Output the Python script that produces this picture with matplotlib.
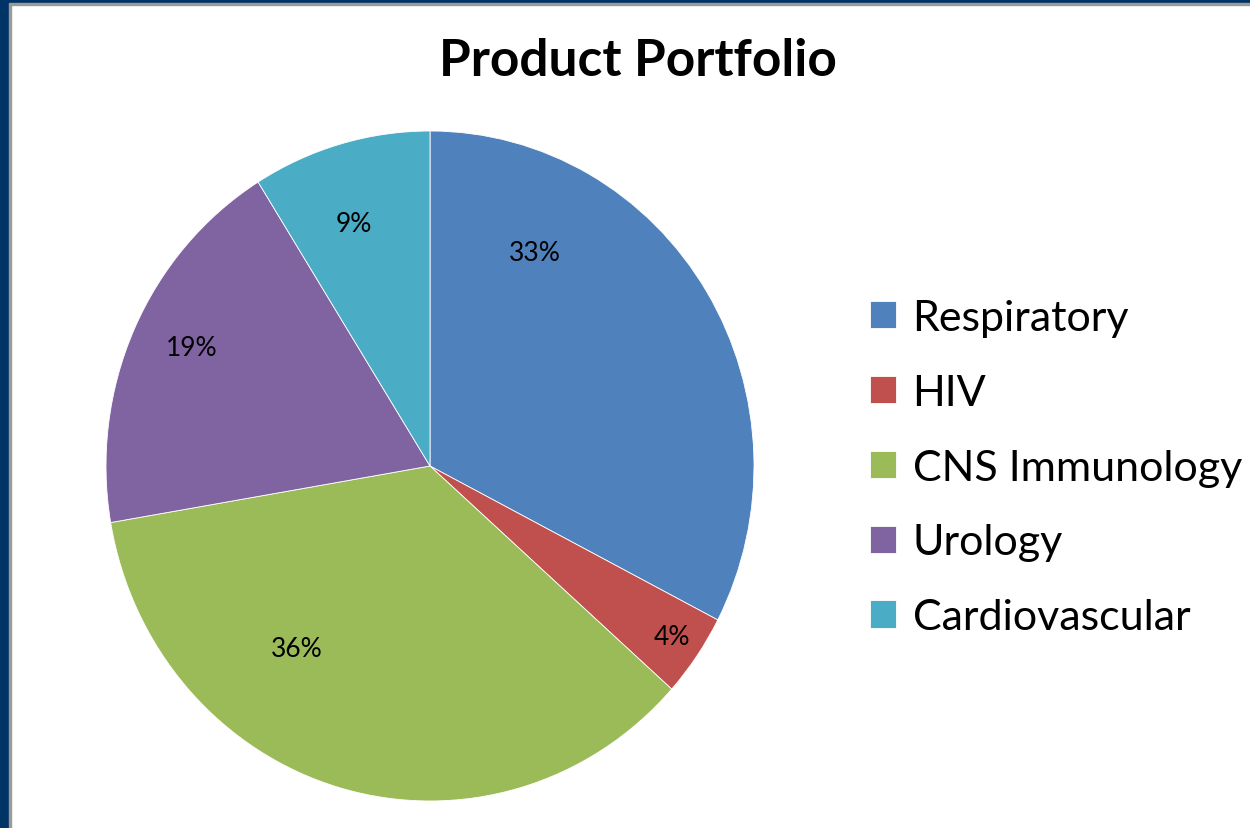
import matplotlib
matplotlib.use("Agg")
import matplotlib.pyplot as plt
from matplotlib.patches import Rectangle

categories = ["Respiratory", "HIV", "CNS Immunology", "Urology", "Cardiovascular"]
shares = [32.6, 4.0, 35.7, 18.8, 8.9]
pct_labels = ["33%", "4%", "36%", "19%", "9%"]
colors = ["#4F81BD", "#C0504D", "#9BBB59", "#8064A2", "#4BACC6"]
# label anchor positions (normalized pie coords), chosen to match best-fit placement
label_xy = [(0.324, 0.636), (0.747, -0.510), (-0.410, -0.546), (-0.735, 0.355), (-0.235, 0.725)]

plt.rcParams['font.family'] = ['Lato', 'DejaVu Sans']

W, H = 1250, 829
fig = plt.figure(figsize=(W / 100, H / 100), dpi=100)
fig.patch.set_facecolor("white")

# frame decorations
fig.add_artist(Rectangle((0, 0), 9 / W, 1, transform=fig.transFigure, color="#003366", zorder=0))
fig.add_artist(Rectangle((9 / W, 0), 2 / W, 1 - 6 / H, transform=fig.transFigure, color="#9a9a9a", zorder=0))
fig.add_artist(Rectangle((0, 1 - 4 / H), 1, 4 / H, transform=fig.transFigure, color="#003366", zorder=0))
fig.add_artist(Rectangle((9 / W, 1 - 6 / H), 1, 2 / H, transform=fig.transFigure, color="#9a9a9a", zorder=0))

left, right, top, bottom = 106, 754, 132, 802
ax = fig.add_axes([left / W, (H - bottom) / H, (right - left) / W, (bottom - top) / H])
wedges, _ = ax.pie(shares, colors=colors, startangle=90, counterclock=False,
                   radius=1.0, wedgeprops=dict(edgecolor="#ffffff", linewidth=0.6))
ax.set_aspect("auto")
ax.set_xlim(-1, 1)
ax.set_ylim(-1, 1)
ax.axis("off")

for (x, y), t in zip(label_xy, pct_labels):
    ax.text(x, y, t, ha="center", va="center", fontsize=19, color="black")

fig.text(638 / W, 1 - 62 / H, "Product Portfolio", ha="center", va="center",
         fontsize=37, fontweight="bold", color="black")

leg = fig.legend(wedges, categories, loc="upper left",
                 bbox_to_anchor=(870 / W, 1 - 300 / H), frameon=False,
                 fontsize=31, handlelength=0.60, handleheight=0.60,
                 handletextpad=0.39, labelspacing=0.855, borderpad=0.0,
                 borderaxespad=0.0)

fig.savefig("out.png", dpi=100, facecolor="white")
